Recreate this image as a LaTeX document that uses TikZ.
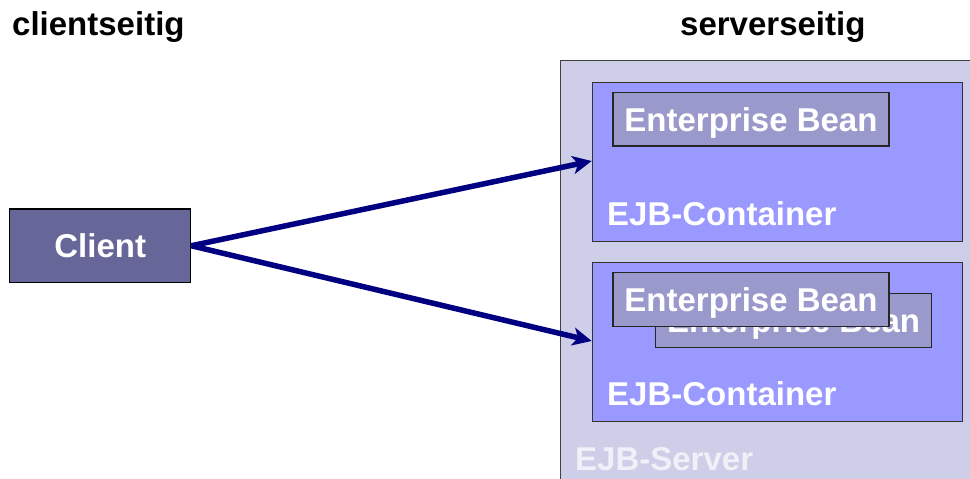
\documentclass[tikz,border=0pt]{standalone}
\usepackage{fontspec}
\setmainfont{Liberation Sans}
\usetikzlibrary{arrows.meta}
\definecolor{serverfill}{RGB}{206,206,232}
\definecolor{contfill}{RGB}{153,153,255}
\definecolor{beanfill}{RGB}{153,153,204}
\definecolor{clientfill}{RGB}{102,102,153}
\definecolor{arrowblue}{RGB}{0,0,128}
\definecolor{serverlabel}{RGB}{240,240,248}
\tikzset{
  big/.style={font=\fontsize{33}{36}\selectfont\bfseries},
  box/.style={draw, rectangle, inner sep=0pt, anchor=north west},
  server/.style={box, fill=serverfill, draw=black!75, line width=1pt},
  container/.style={box, fill=contfill, draw=black!80, line width=1.3pt,
    minimum width=370pt, minimum height=159pt},
  bean/.style={box, big, text=white, fill=beanfill, draw=black!85, line width=1.3pt,
    minimum width=276pt, minimum height=53.5pt, text depth=0pt},
  clientbox/.style={box, big, text=white, fill=clientfill, draw=black, line width=1.4pt,
    minimum width=181pt, minimum height=73.5pt},
  label/.style={big, anchor=base west, inner sep=0pt},
  conn/.style={draw=arrowblue, line width=5.5pt,
    -{Stealth[length=19pt, width=18pt, inset=5pt]}},
}
\begin{document}
\begin{tikzpicture}[x=1pt, y=-1pt]
  \useasboundingbox (0,0) rectangle (970,479);
  \clip (0,0) rectangle (970,479);

  % headings
  \node[label] (hclient) at (12,35) {clientseitig};
  \node[label] (hserver) at (680,35) {serverseitig};

  % EJB server
  \node[server, minimum width=420pt, minimum height=430pt] (srv) at (560,60) {};
  \node[label, text=serverlabel] (srvlabel) at (575,470) {EJB-Server};

  % first container with one bean
  \node[container] (c1) at (592,81.5) {};
  \node[bean] (b1) at (612.3,91.7) {Enterprise Bean};
  \node[label, text=white] (c1label) at (607,225) {EJB-Container};

  % second container with two beans, the front one partly covering the back one
  \node[container] (c2) at (592,261.5) {};
  \node[bean] (b2back) at (655,293) {Enterprise Bean};
  \node[bean] (b2front) at (612.3,272) {Enterprise Bean};
  \node[label, text=white] (c2label) at (607,405) {EJB-Container};

  % client
  \node[clientbox] (client) at (9,208.3) {Client};

  % connections
  \coordinate (t1) at (591.7,161);
  \coordinate (t2) at (591.7,341);
  \draw[conn] (client.east) -- (t1);
  \draw[conn] (client.east) -- (t2);
\end{tikzpicture}
\end{document}
